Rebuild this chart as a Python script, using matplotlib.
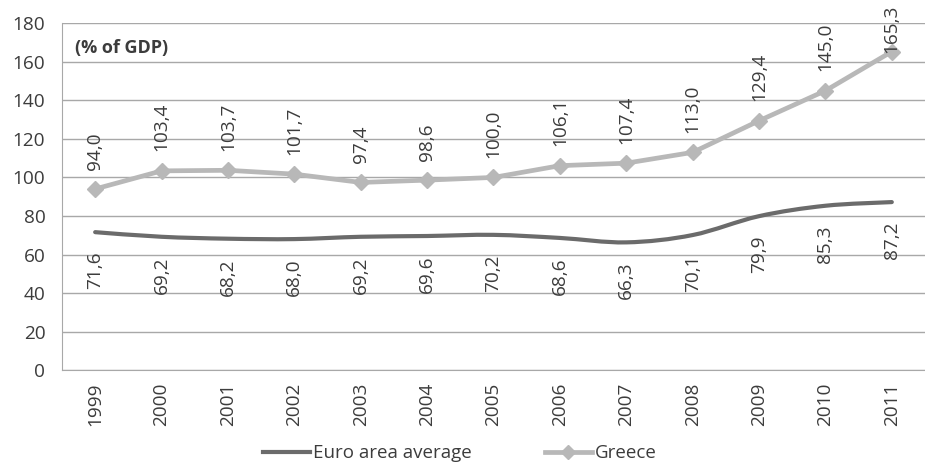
import matplotlib
matplotlib.use("Agg")
from matplotlib import pyplot as plt
from matplotlib.path import Path
from matplotlib.patches import PathPatch
from matplotlib.lines import Line2D

years = ["1999", "2000", "2001", "2002", "2003", "2004", "2005",
         "2006", "2007", "2008", "2009", "2010", "2011"]
euro_area = [71.6, 69.2, 68.2, 68.0, 69.2, 69.6, 70.2, 68.6, 66.3, 70.1, 79.9, 85.3, 87.2]
greece = [94.0, 103.4, 103.7, 101.7, 97.4, 98.6, 100.0, 106.1, 107.4, 113.0, 129.4, 145.0, 165.3]

plt.rcParams['font.family'] = ['Open Sans', 'DejaVu Sans']

euro_color = '#6b6b6b'
greece_color = '#b8b8b8'
text_color = '#3c3c3c'
grid_color = '#a8a8a8'


def smooth_path(xs, ys, tension=1 / 6):
    # smoothed polyline as cubic bezier segments through each point
    verts = [(xs[0], ys[0])]
    codes = [Path.MOVETO]
    n = len(xs)
    for i in range(n - 1):
        x0, y0 = xs[max(i - 1, 0)], ys[max(i - 1, 0)]
        x1, y1 = xs[i], ys[i]
        x2, y2 = xs[i + 1], ys[i + 1]
        x3, y3 = xs[min(i + 2, n - 1)], ys[min(i + 2, n - 1)]
        c1 = (x1 + (x2 - x0) * tension, y1 + (y2 - y0) * tension)
        c2 = (x2 - (x3 - x1) * tension, y2 - (y3 - y1) * tension)
        verts += [c1, c2, (x2, y2)]
        codes += [Path.CURVE4] * 3
    return Path(verts, codes)


def fmt(v):
    return f"{v:.1f}".replace(".", ",")


fig = plt.figure(figsize=(9.25, 4.65), dpi=100)
ax = fig.add_axes([0.067, 0.204, 0.933, 0.746])

x = list(range(len(years)))
ax.add_patch(PathPatch(smooth_path(x, euro_area), facecolor='none',
                       edgecolor=euro_color, lw=3, capstyle='round', zorder=3))
ax.plot(x, greece, color=greece_color, lw=3.4, marker='D', markersize=8,
        zorder=3)

greece_labels = []
for i, v in enumerate(greece):
    t = ax.annotate(fmt(v), (i, v), xytext=(0, 14), textcoords='offset points',
                    rotation=90, ha='center', va='bottom', fontsize=13.7,
                    color=text_color)
    greece_labels.append(t)
for i, v in enumerate(euro_area):
    ax.annotate(fmt(v), (i, v), xytext=(0, -14), textcoords='offset points',
                rotation=90, ha='center', va='top', fontsize=13.7, color=text_color)

ax.set_xlim(-0.5, len(years) - 0.5)
ax.set_ylim(0, 180)
ax.set_yticks(range(0, 181, 20))
ax.set_xticks(x)
ax.set_xticklabels(years, rotation=90)
ax.tick_params(axis='both', length=0, labelsize=13.7, labelcolor=text_color)
ax.tick_params(axis='y', pad=12)
ax.tick_params(axis='x', pad=9)
ax.grid(axis='y', color=grid_color, lw=1)
ax.set_axisbelow(True)
for side in ['top', 'right']:
    ax.spines[side].set_visible(False)
ax.spines['left'].set_color(grid_color)
ax.spines['bottom'].set_color(grid_color)

ax.text(0.015, 0.93, "(% of GDP)", transform=ax.transAxes, fontsize=13,
        fontweight='bold', color=text_color, va='center')

handles = [
    Line2D([], [], color=euro_color, lw=3),
    Line2D([], [], color=greece_color, lw=3.4, marker='D', markersize=7),
]
fig.legend(handles, ["Euro area average", "Greece"], loc='lower center',
           bbox_to_anchor=(0.497, -0.03), ncol=2, frameon=False, fontsize=13.5,
           handlelength=2.5, handletextpad=0.15, columnspacing=3.9,
           labelcolor=text_color)

# keep labels near the top edge inside the figure
fig.canvas.draw()
fig_h = fig.bbox.height
for t in greece_labels:
    bb = t.get_window_extent()
    if bb.y1 > fig_h - 5:
        shift = (bb.y1 - (fig_h - 5)) * 72 / fig.dpi
        t.set_position((0, 14 - shift))

fig.savefig("out.png", dpi=100)
